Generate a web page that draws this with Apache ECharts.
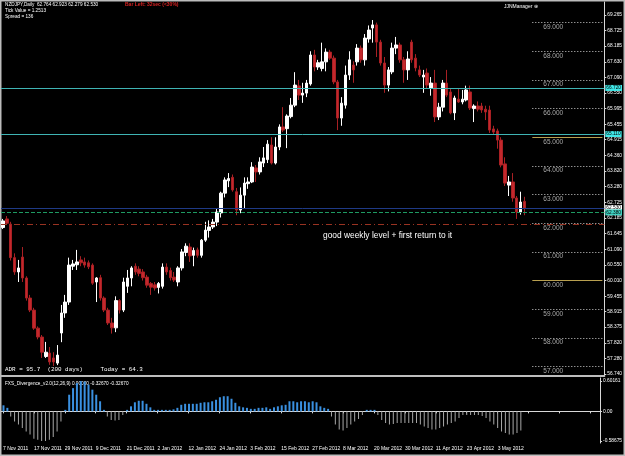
<!DOCTYPE html>
<html>
<head>
<meta charset="utf-8">
<script src="https://cdn.jsdelivr.net/npm/echarts@6/dist/echarts.min.js"></script>
<style>
  html, body { margin: 0; padding: 0; background: #000; }
  #chart { width: 625px; height: 456px; }
</style>
</head>
<body>
<div id="chart"></div>
<script>
// NZDJPY daily bars, 7 Nov 2011 .. 11 May 2012 (one per weekday)
const opens = [
  61.85, 62.15, 61.97, 60.80, 60.30, 60.82, 60.09, 59.39, 58.97, 58.34,
  58.03, 57.35, 57.47, 57.30, 57.12, 58.17, 58.87, 59.25, 60.50, 60.55,
  60.72, 60.65, 60.62, 60.54, 59.95, 60.10, 59.39, 58.97, 58.52, 58.35,
  59.30, 58.97, 59.80, 60.09, 60.50, 60.40, 60.30, 60.12, 59.90, 59.85,
  59.76, 59.80, 60.47, 60.35, 60.12, 59.95, 60.44, 60.98, 61.17, 60.88,
  61.07, 60.88, 61.41, 61.75, 61.87, 62.04, 62.36, 63.05, 63.48, 63.60,
  63.10, 62.46, 62.98, 63.38, 63.44, 63.93, 63.79, 64.10, 64.22, 64.73,
  64.10, 64.66, 65.36, 65.30, 65.72, 66.12, 66.79, 66.47, 66.54, 66.86,
  67.87, 67.45, 67.40, 67.63, 67.97, 67.76, 66.93, 65.67, 66.12, 67.17,
  67.52, 67.63, 68.11, 67.70, 68.43, 68.81, 68.92, 68.32, 67.59, 66.82,
  67.28, 68.11, 68.22, 67.70, 67.35, 68.32, 67.76, 67.35, 67.10, 67.24,
  66.72, 66.89, 65.71, 66.05, 66.89, 66.58, 65.85, 66.33, 66.23, 66.30,
  66.58, 66.00, 66.09, 66.09, 65.98, 65.95, 65.29, 65.22, 64.90, 64.07,
  63.33, 63.44, 62.88, 62.39, 62.764
];
const highs = [
  62.15, 62.25, 62.05, 60.95, 60.72, 61.17, 60.15, 59.50, 59.05, 58.40,
  58.10, 57.86, 57.68, 57.50, 57.75, 59.15, 59.50, 60.80, 60.72, 61.07,
  60.85, 60.80, 60.70, 60.60, 60.12, 60.20, 59.45, 59.05, 58.70, 59.45,
  59.35, 60.10, 60.37, 60.50, 60.60, 60.50, 60.40, 60.20, 59.95, 59.95,
  59.95, 60.60, 60.60, 60.45, 60.30, 60.50, 61.10, 61.30, 61.30, 61.15,
  61.15, 61.45, 62.05, 62.10, 62.15, 62.53, 63.10, 63.60, 63.75, 63.70,
  63.23, 63.25, 63.60, 63.60, 64.13, 64.03, 64.30, 64.66, 64.90, 65.00,
  65.00, 65.45, 66.05, 65.80, 66.37, 67.27, 67.00, 66.90, 67.00, 68.00,
  68.05, 67.70, 68.30, 68.10, 68.05, 67.85, 67.00, 66.40, 67.50, 68.00,
  67.65, 68.25, 68.20, 68.60, 68.90, 69.09, 69.00, 68.40, 67.80, 67.45,
  68.30, 68.50, 68.30, 67.80, 68.00, 68.40, 67.90, 67.50, 67.35, 67.40,
  67.10, 67.35, 66.20, 67.00, 67.35, 66.70, 66.45, 66.70, 66.65, 66.80,
  66.80, 66.15, 66.25, 66.20, 66.10, 66.10, 65.40, 65.30, 65.00, 64.30,
  63.65, 63.75, 62.95, 63.10, 62.923
];
const lows = [
  61.80, 61.95, 60.70, 60.20, 59.95, 59.95, 59.30, 58.90, 58.28, 57.95,
  57.30, 57.30, 57.06, 57.02, 57.05, 57.85, 58.70, 59.15, 60.37, 60.37,
  60.50, 60.45, 60.40, 59.85, 59.25, 59.30, 58.90, 58.45, 58.15, 58.20,
  58.85, 58.90, 59.57, 59.80, 60.20, 60.15, 60.00, 59.75, 59.50, 59.65,
  59.55, 59.72, 60.20, 60.00, 59.95, 59.80, 60.35, 60.85, 60.65, 60.50,
  60.80, 60.80, 61.35, 61.50, 61.80, 61.90, 62.20, 62.90, 63.26, 63.10,
  62.28, 62.35, 62.53, 63.20, 63.40, 63.44, 63.70, 63.96, 64.10, 64.05,
  64.05, 64.55, 65.18, 64.62, 65.66, 66.05, 66.30, 66.20, 66.40, 66.80,
  67.30, 67.35, 67.30, 67.30, 67.70, 66.85, 65.25, 65.40, 66.00, 67.00,
  66.90, 67.50, 67.60, 67.50, 68.30, 68.30, 67.80, 67.50, 66.55, 66.60,
  67.20, 67.90, 67.60, 66.90, 67.00, 67.60, 67.30, 67.10, 66.55, 66.70,
  66.45, 65.53, 65.60, 65.90, 66.40, 65.80, 65.60, 66.20, 66.15, 66.25,
  65.95, 65.53, 65.90, 65.85, 65.60, 65.15, 65.10, 64.60, 63.95, 63.30,
  62.95, 62.75, 62.15, 62.30, 62.279
];
const closes = [
  62.08, 62.00, 60.80, 60.30, 60.44, 60.09, 59.39, 58.97, 58.34, 58.03,
  57.50, 57.50, 57.16, 57.16, 57.40, 58.87, 59.25, 60.54, 60.58, 60.65,
  60.62, 60.54, 60.48, 59.91, 60.09, 59.39, 58.97, 58.52, 58.35, 59.30,
  58.97, 59.95, 60.09, 60.44, 60.30, 60.25, 60.10, 59.84, 59.77, 59.74,
  59.90, 60.47, 60.30, 60.10, 60.02, 60.44, 61.00, 61.20, 60.86, 61.05,
  60.88, 61.41, 61.76, 61.87, 62.04, 62.39, 63.05, 63.51, 63.56, 63.16,
  62.46, 62.98, 63.40, 63.44, 63.96, 63.79, 64.14, 64.28, 64.76, 64.10,
  64.66, 65.36, 65.25, 65.74, 66.12, 66.82, 66.47, 66.54, 66.89, 67.87,
  67.45, 67.60, 67.63, 67.97, 67.76, 66.93, 65.67, 66.19, 67.17, 67.70,
  67.35, 68.11, 67.70, 68.46, 68.74, 68.92, 68.32, 67.59, 66.82, 67.35,
  68.11, 68.22, 67.70, 67.35, 67.73, 67.70, 67.42, 67.17, 67.17, 66.82,
  66.89, 65.71, 66.05, 66.89, 66.47, 65.85, 66.37, 66.23, 66.33, 66.65,
  66.02, 66.09, 65.98, 65.95, 65.88, 65.25, 65.18, 64.90, 64.03, 63.40,
  63.44, 62.88, 62.39, 62.74, 62.530
];
// FXS_Divergence histogram, one value per bar
const divergence = [
   0.12,  0.07, -0.10, -0.20, -0.26, -0.33, -0.40, -0.46, -0.54, -0.56,
  -0.587,-0.587,-0.56, -0.51, -0.40, -0.20,  0.03,  0.33,  0.46,  0.56,
   0.60,  0.59,  0.53,  0.43,  0.33,  0.20,  0.03, -0.10, -0.17, -0.18,
  -0.17, -0.07,  0.03,  0.10,  0.18,  0.21,  0.21,  0.15,  0.08,  0.03,
   0.03,  0.03,  0.03,  0.03,  0.04,  0.07,  0.13,  0.15,  0.15,  0.15,
   0.15,  0.17,  0.18,  0.18,  0.20,  0.23,  0.28,  0.30,  0.30,  0.25,
   0.17,  0.10,  0.08,  0.07,  0.05,  0.05,  0.07,  0.07,  0.08,  0.05,
   0.08,  0.10,  0.12,  0.13,  0.20,  0.20,  0.18,  0.20,  0.20,  0.18,
   0.20,  0.18,  0.10,  0.07,  0.05, -0.10, -0.26, -0.36, -0.38, -0.33,
  -0.26, -0.20, -0.15, -0.07,  0.03,  0.03,  0.03, -0.07, -0.17, -0.23,
  -0.26, -0.25, -0.23, -0.23, -0.23, -0.23, -0.23, -0.23, -0.26, -0.30,
  -0.33, -0.36, -0.36, -0.33, -0.30, -0.26, -0.23, -0.20, -0.13, -0.07,
  -0.07, -0.07, -0.07, -0.07, -0.09, -0.13, -0.20, -0.26, -0.33, -0.40,
  -0.43, -0.46, -0.46, -0.43, -0.38
];
const priceTicks = [
  69.265, 68.725, 68.185, 67.630, 67.090, 66.550, 65.995, 65.455, 64.915, 64.360,
  63.820, 63.280, 62.725, 62.185, 61.645, 61.090, 60.550, 60.010, 59.455, 58.915,
  58.375, 57.820, 57.280, 56.740
];
const indicatorTicks = [0.60161, 0, -0.58675];
const indicatorTickLabels = ['0.60161', '0.00', '-0.58675'];
const roundLevels = [69, 68, 67, 66, 64, 63, 62, 61, 59, 58, 57];
const goldLevels = [65, 60];
const cyanLevels = [66.721, 65.113];
const bidPrice = 62.530;
const orderPrice = 62.381;
const stopPrice = 61.95;

const totalSlots = 155; // bars plus empty right margin
const levelStart = 136;
const monthNames = ['Jan', 'Feb', 'Mar', 'Apr', 'May', 'Jun', 'Jul', 'Aug', 'Sep', 'Oct', 'Nov', 'Dec'];

const dates = [];
for (let d = new Date(Date.UTC(2011, 10, 7)); dates.length < totalSlots; d.setUTCDate(d.getUTCDate() + 1)) {
  const wd = d.getUTCDay();
  if (wd === 0 || wd === 6) continue;
  dates.push(d.getUTCDate() + ' ' + monthNames[d.getUTCMonth()] + ' ' + d.getUTCFullYear());
}
const barCount = opens.length;
const candles = opens.map((o, i) => [o, closes[i], lows[i], highs[i]]);
const divUp = divergence.map(v => (v > 0 ? v : '-'));
const divDown = divergence.map(v => (v <= 0 ? v : '-'));

const font = 'Liberation Sans, Arial, sans-serif';

function boxLabel(bg) {
  return {
    show: true, position: 'end', distance: 1,
    formatter: p => p.value.toFixed(3),
    backgroundColor: bg, color: '#000', fontSize: 4.8, fontFamily: font,
    padding: [1, 1, 0, 1]
  };
}

const lineMarks = [];
cyanLevels.forEach(v => lineMarks.push({
  yAxis: v, lineStyle: { color: '#3fb4b4', width: 1, type: 'solid' }, label: boxLabel('#40e8e8')
}));
lineMarks.push({
  yAxis: bidPrice, lineStyle: { color: '#1f3a86', width: 1, type: 'solid' }, label: boxLabel('#ffffff')
});
lineMarks.push({
  yAxis: orderPrice, lineStyle: { color: '#1e9a62', width: 1, type: [4, 2] }, label: boxLabel('#3fd0c0')
});
lineMarks.push({
  yAxis: orderPrice, lineStyle: { opacity: 0 },
  label: { show: true, position: 'insideStartTop', distance: [4, 1], formatter: '#13651235 buy',
    color: '#ffffff', fontSize: 4.8, fontFamily: font }
});
lineMarks.push({
  yAxis: stopPrice, lineStyle: { color: '#9a3322', width: 1, type: [6, 3, 1, 3] }, label: { show: false }
});
roundLevels.forEach(v => lineMarks.push([
  { coord: [levelStart, v], lineStyle: { color: '#d0d0d0', width: 1, type: [1, 2] },
    label: { show: true, position: 'insideStartBottom', distance: [11, 1],
      formatter: v.toFixed(3), color: '#a8a8a8', fontSize: 6.5, fontFamily: font } },
  { coord: [totalSlots - 1, v] }
]));
goldLevels.forEach(v => lineMarks.push([
  { coord: [levelStart, v], lineStyle: { color: '#b9a050', width: 1, type: 'solid' },
    label: { show: true, position: 'insideStartBottom', distance: [11, 1],
      formatter: v.toFixed(3), color: '#a8a8a8', fontSize: 6.5, fontFamily: font } },
  { coord: [totalSlots - 1, v] }
]));

const chart = echarts.init(document.getElementById('chart'));
const option = {
  animation: false,
  backgroundColor: '#000',
  grid: [
    { left: 1, top: 2, width: 604, height: 374 },
    { left: 1, top: 378, width: 604, height: 65 }
  ],
  xAxis: [
    {
      type: 'category', gridIndex: 0, data: dates, boundaryGap: true,
      axisLine: { show: true, lineStyle: { color: '#bdbdbd', width: 2 } },
      axisTick: { show: false }, axisLabel: { show: false }, splitLine: { show: false }
    },
    {
      type: 'category', gridIndex: 1, data: dates, boundaryGap: true,
      axisLine: { show: true, lineStyle: { color: '#d8d8d8', width: 1 } },
      axisTick: { show: true, interval: 7, length: 2, alignWithLabel: true, lineStyle: { color: '#d8d8d8' } },
      axisLabel: {
        interval: 7, align: 'left', margin: 3, color: '#ffffff', fontSize: 5, fontFamily: font,
        formatter: (v, i) => (i < barCount ? v : '')
      },
      splitLine: { show: false }
    }
  ],
  yAxis: [
    {
      type: 'value', gridIndex: 0, position: 'right', min: 56.6702, max: 69.7186,
      splitLine: { show: false },
      axisLine: { show: true, lineStyle: { color: '#d8d8d8' } },
      axisTick: { show: true, length: 2, customValues: priceTicks, lineStyle: { color: '#d8d8d8' } },
      axisLabel: {
        customValues: priceTicks, formatter: v => v.toFixed(3),
        color: '#ffffff', fontSize: 4.8, fontFamily: font, margin: 3
      }
    },
    {
      type: 'value', gridIndex: 1, position: 'right', min: -0.6264, max: 0.661,
      splitLine: { show: false },
      axisLine: { show: true, lineStyle: { color: '#d8d8d8' } },
      axisTick: { show: true, length: 2, customValues: indicatorTicks, lineStyle: { color: '#d8d8d8' } },
      axisLabel: {
        customValues: indicatorTicks,
        formatter: v => indicatorTickLabels[indicatorTicks.indexOf(v)] ?? String(v),
        color: '#ffffff', fontSize: 4.8, fontFamily: font, margin: 3
      }
    }
  ],
  series: [
    {
      type: 'candlestick', xAxisIndex: 0, yAxisIndex: 0, data: candles, barWidth: 3,
      itemStyle: {
        color: '#ffffff', borderColor: '#ffffff',
        color0: '#c4282c', borderColor0: '#a82024', borderWidth: 1
      },
      markLine: { silent: true, symbol: ['none', 'none'], animation: false, data: lineMarks }
    },
    {
      type: 'bar', xAxisIndex: 1, yAxisIndex: 1, data: divUp, barWidth: 2,
      itemStyle: { color: '#3a90e0' }
    },
    {
      type: 'bar', xAxisIndex: 1, yAxisIndex: 1, data: divDown, barWidth: 1, barGap: '-100%',
      itemStyle: { color: '#a8a8a8' }
    }
  ],
  graphic: [
    { type: 'rect', shape: { x: 0.5, y: 0.5, width: 624, height: 455 }, style: { fill: 'none', stroke: '#bcbcbc', lineWidth: 2 }, silent: true },
    { type: 'text', x: 5, y: 2, style: { text: 'NZDJPY,Daily  62.764 62.923 62.279 62.530', fill: '#fff', fontSize: 4.7, fontFamily: font } },
    { type: 'text', x: 5, y: 8.5, style: { text: 'Tick Value = 1.2513', fill: '#fff', fontSize: 4.7, fontFamily: font } },
    { type: 'text', x: 5, y: 14.5, style: { text: 'Spread = 136', fill: '#fff', fontSize: 4.7, fontFamily: font } },
    { type: 'text', x: 125, y: 2, style: { text: 'Bar Left: 32sec (<30%)', fill: '#d42222', fontSize: 5, fontWeight: 'bold', fontFamily: font } },
    { type: 'text', x: 504, y: 4, style: { text: 'JJNManager \u229b', fill: '#fff', fontSize: 5, fontFamily: font } },
    { type: 'text', x: 323, y: 232, style: { text: 'good weekly level + first return to it', fill: '#fff', fontSize: 8.4, fontFamily: font } },
    { type: 'text', x: 5, y: 366, style: { text: 'ADR = 95.7  (200 days)     Today = 64.3', fill: '#fff', fontSize: 5.9, fontFamily: 'Liberation Mono, monospace' } },
    { type: 'text', x: 5, y: 381, style: { text: 'FXS_Divergence_v2.0(12,26,9) 0.00000 -0.32670 -0.32670', fill: '#fff', fontSize: 4.7, fontFamily: font } }
  ]
};
chart.setOption(option);
</script>
</body>
</html>
